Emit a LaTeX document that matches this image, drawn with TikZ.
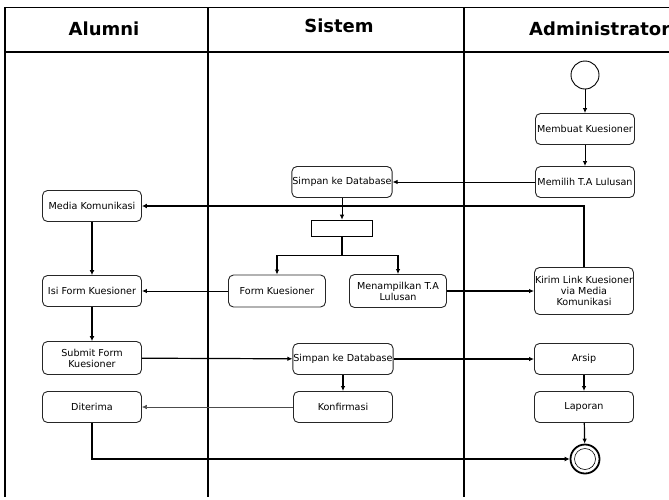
\documentclass[tikz,border=0pt]{standalone}
\usepackage{fontspec}
\setmainfont{DejaVu Sans}
\usetikzlibrary{arrows.meta}
\begin{document}
\begin{tikzpicture}[x=1pt,y=-1pt,
  act/.style={draw=black!85, line width=0.9pt, rounded corners=5pt, fill=white,
    minimum width=99pt, minimum height=31pt, align=center,
    font=\fontsize{9.6}{11}\selectfont, inner sep=0.5pt},
  lane/.style={line width=1.6pt},
  head/.style={font=\fontsize{18}{20}\selectfont\bfseries},
  flow/.style={line width=0.9pt, -{Latex[length=5pt,width=4.5pt]}},
  thickflow/.style={line width=2.4pt, -{Latex[length=5pt,width=5pt]}},
  thinflow/.style={line width=0.5pt, draw=black!70, -{Latex[length=5pt,width=4.5pt]}}]
\useasboundingbox (0,0) rectangle (669,499);
% frame and lanes
\draw[line width=1pt] (5,7) -- (669,7);
\draw[line width=2pt] (5,52) -- (669,52);
\draw[line width=1.2pt] (5,7) -- (5,497);
\draw[lane] (208,7) -- (208,497);
\draw[lane] (464,7) -- (464,497);
\node[head] (hA) at (104,29) {Alumni};
\node[head] (hS) at (339,26) {Sistem};
\node[head, anchor=west, inner sep=0pt] (hD) at (529,29) {Administrator};
% Alumni
\node[act] (media) at (92,206) {Media Komunikasi};
\node[act] (isi) at (92,291) {Isi Form Kuesioner};
\node[act, minimum height=33pt] (submit) at (92,358) {Submit Form\\Kuesioner};
\node[act] (diterima) at (92,407) {Diterima};
% Sistem
\node[act] (simpan1) at (342,182) {Simpan ke Database};
\node[draw, line width=0.6pt, fill=white, minimum width=61pt, minimum height=16pt, inner sep=0pt] (bar) at (342,228) {};
\node[act, minimum width=97pt, minimum height=32pt] (formk) at (277,291) {Form Kuesioner};
\node[act, minimum width=97pt, minimum height=33pt] (menamp) at (398,291) {Menampilkan T.A\\Lulusan};
\node[act] (simpan2) at (343,359) {Simpan ke Database};
\node[act] (konf) at (343,407) {Konfirmasi};
% Administrator
\node[circle, draw, line width=0.9pt, fill=white, minimum size=28pt, inner sep=0pt] (start) at (585,75) {};
\node[act] (membuat) at (585,129) {Membuat Kuesioner};
\node[act] (memilih) at (585,182) {Memilih T.A Lulusan};
\node[act, minimum height=47pt] (kirim) at (584,291) {Kirim Link Kuesioner\\via Media\\Komunikasi};
\node[act] (arsip) at (584,359) {Arsip};
\node[act] (laporan) at (584,407) {Laporan};
\node[circle, draw, line width=1.8pt, fill=white, minimum size=29pt, inner sep=0pt] (end) at (585,459) {};
\node[circle, draw, line width=0.6pt, minimum size=21pt, inner sep=0pt] (endin) at (585,459) {};
% connectors
\draw[flow] (start) -- (membuat);
\draw[flow] (membuat) -- (memilih);
\draw[flow] (memilih) -- (simpan1);
\draw[flow] (simpan1) -- (bar);
\draw[flow, line width=1.3pt] (bar.south) -- ++(0,19) -| (formk.north);
\draw[flow, line width=1.3pt] (bar.south) -- ++(0,19) -| (menamp.north);
\draw[flow] (formk) -- (isi);
\draw[flow, line width=1.2pt] (menamp) -- (kirim);
\draw[thickflow] (kirim.north) |- (media.east);
\draw[thickflow] (media) -- (isi);
\draw[thickflow] (isi) -- (submit);
\draw[flow, line width=1.2pt] (submit) -- (simpan2);
\draw[flow, line width=1.2pt] (simpan2) -- (arsip);
\draw[flow, line width=1.2pt] (simpan2) -- (konf);
\draw[thinflow] (konf) -- (diterima);
\draw[flow, line width=1.2pt] (arsip) -- (laporan);
\draw[flow, line width=1.2pt] (laporan) -- (end);
\draw[thickflow] (diterima.south) |- (end.west);
\end{tikzpicture}
\end{document}
